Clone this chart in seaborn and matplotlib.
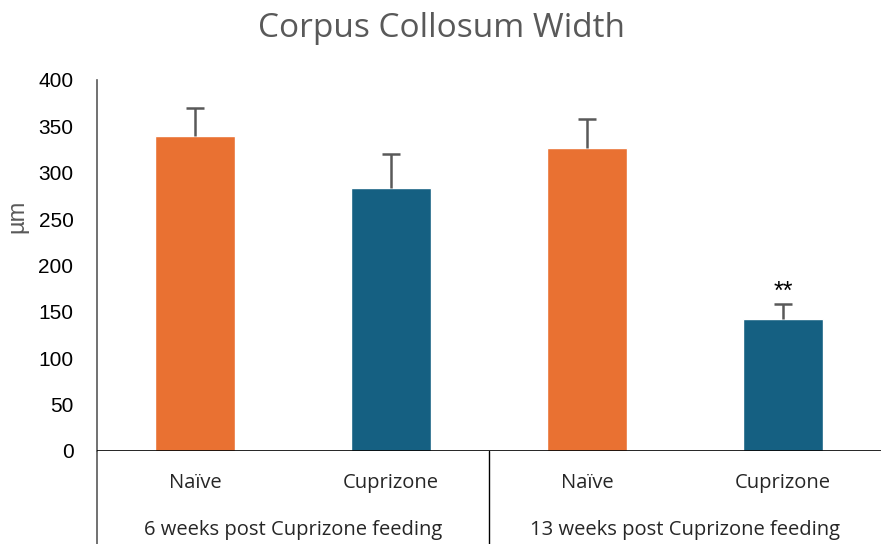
import pandas as pd
import matplotlib.pyplot as plt
import seaborn as sns
from matplotlib.transforms import blended_transform_factory

# data
condicoes = ["Naïve", "Cuprizone", "Naïve", "Cuprizone"]
grupos = ["6 weeks post Cuprizone feeding", "13 weeks post Cuprizone feeding"]
largura = [340, 284, 327, 142]
erro = [30, 36, 31, 16]
sig = ["", "", "", "**"]

LARANJA = "#E97132"
AZUL = "#156082"
CINZA = "#595959"
FONTE_TXT = ["Open Sans", "DejaVu Sans"]

sns.set_theme(style="white")
plt.rcParams["font.family"] = ["Liberation Sans", "DejaVu Sans"]

df = pd.DataFrame({
    "barra": [f"{c}_{i}" for i, c in enumerate(condicoes)],
    "cond": condicoes,
    "valor": largura,
})

fig = plt.figure(figsize=(8.82, 5.44), dpi=100)
ax = fig.add_axes([0.110, 0.171, 0.889, 0.682])

sns.barplot(data=df, x="barra", y="valor", hue="cond",
            palette={"Naïve": LARANJA, "Cuprizone": AZUL},
            width=0.41, legend=False, ax=ax, saturation=1)

# barras de erro só para cima, com traço só no topo
pos = list(range(len(largura)))
topo = [v + e for v, e in zip(largura, erro)]
ax.errorbar(pos, largura, yerr=[[0] * len(erro), erro], fmt="none",
            ecolor=CINZA, elinewidth=1.8, capsize=0, zorder=3)
ax.plot(pos, topo, ls="none", marker="_", markersize=13, mew=1.8,
        color=CINZA, zorder=3)
for i, (t, s) in enumerate(zip(topo, sig)):
    if s:
        ax.text(i, t + 1, s, ha="center", va="bottom", fontsize=18, color="black")

ax.set_xlim(-0.5, 3.5)
ax.set_ylim(0, 400)
ax.set_yticks(range(0, 401, 50))
ax.tick_params(axis="y", labelsize=15, colors="black", pad=17, length=0)
ax.set_xticks([])
ax.set_xlabel("")
ax.set_ylabel("µm", fontsize=17, color=CINZA)
ax.yaxis.set_label_coords(-0.087, 0.633)

for lado in ["top", "right", "bottom"]:
    ax.spines[lado].set_visible(False)
ax.spines["left"].set_color(CINZA)
ax.spines["left"].set_linewidth(1.2)

# eixo de categorias em dois níveis
tr = blended_transform_factory(ax.transData, ax.transAxes)
base = -0.27
ax.axhline(0, color="black", lw=1.2, zorder=4)
ax.plot([-0.5, -0.5], [0, base], transform=tr, color=CINZA, lw=1.2, clip_on=False)
ax.plot([1.5, 1.5], [0, base], transform=tr, color="black", lw=1, clip_on=False)
for i, c in enumerate(condicoes):
    ax.text(i, -0.087, c, transform=tr, ha="center", va="center",
            fontsize=14.5, family=FONTE_TXT)
for j, g in enumerate(grupos):
    ax.text(2 * j + 0.5, -0.213, g, transform=tr, ha="center", va="center",
            fontsize=14.5, family=FONTE_TXT)

fig.text(0.5, 0.932, "Corpus Collosum Width", ha="center", va="baseline",
         fontsize=24, color=CINZA, family=FONTE_TXT)

fig.savefig("out.png", dpi=100)
